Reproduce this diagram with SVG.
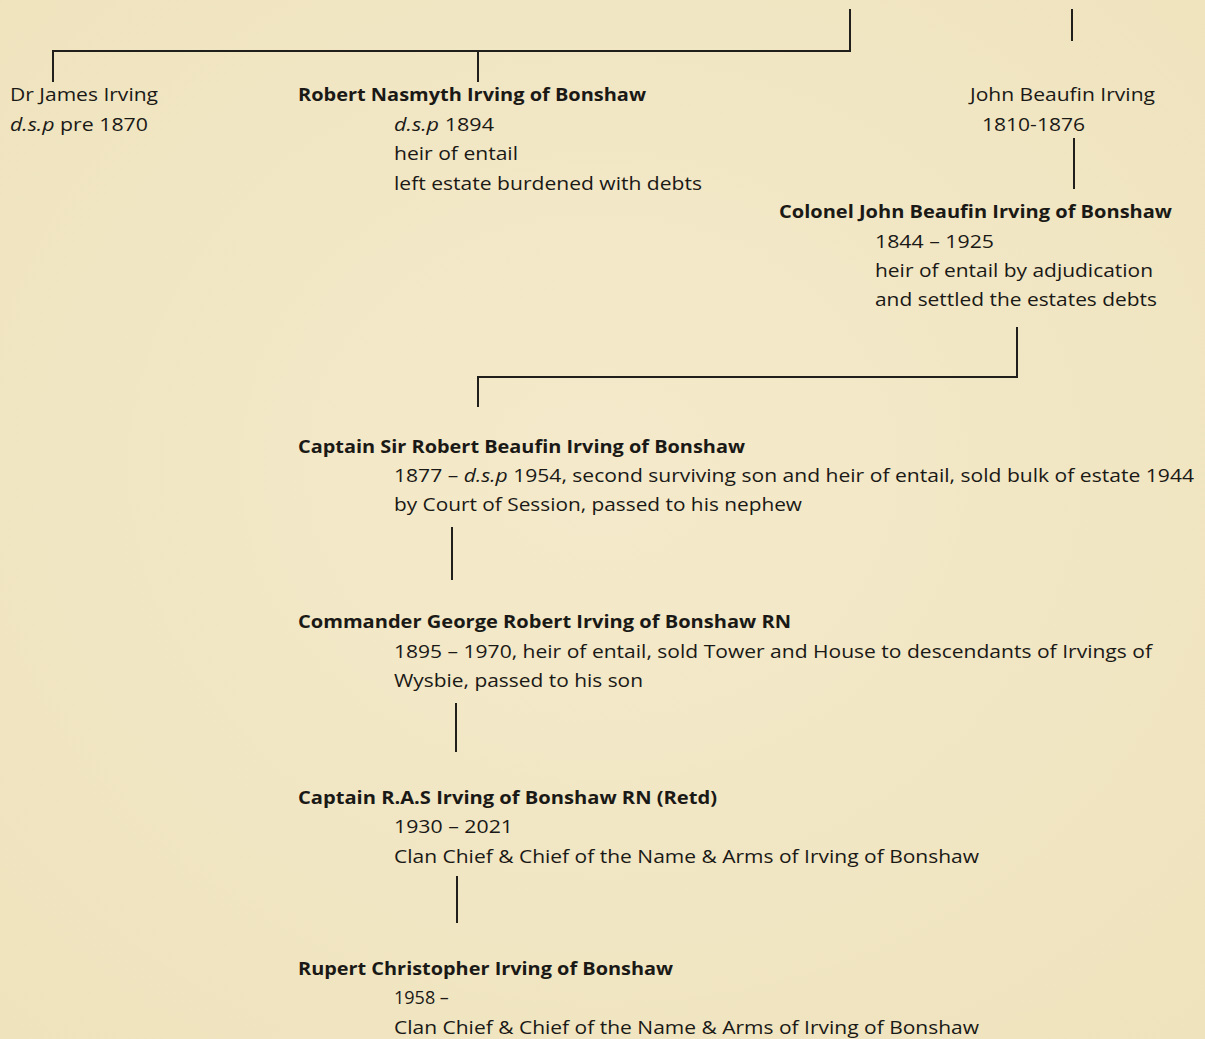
<svg xmlns="http://www.w3.org/2000/svg" width="1205" height="1039" viewBox="0 0 1205 1039">
<style>
text{font-family:"Open Sans","Noto Sans","Liberation Sans",sans-serif;font-size:18px;fill:#1a1916}
.b{font-weight:bold}
.i{font-style:italic}
.ln{stroke:#201f1c;stroke-width:2;fill:none}
</style>
<defs>
<radialGradient id="bg" cx="50%" cy="45%" r="75%">
<stop offset="0" stop-color="#f4eacb"/>
<stop offset="1" stop-color="#efe3bd"/>
</radialGradient>
</defs>
<rect width="1205" height="1039" fill="url(#bg)"/>
<g id="connectors">
<path class="ln" d="M850 9V51H53V82M478 51V82"/>
<path class="ln" d="M1072 9V41"/>
<path class="ln" d="M1074 138V189"/>
<path class="ln" d="M1017 327V377H478V407"/>
<path class="ln" d="M452 527V580"/>
<path class="ln" d="M456 703V752"/>
<path class="ln" d="M457 876V923"/>
</g>
<g id="dr-james">
<text x="10" y="101" textLength="148" lengthAdjust="spacingAndGlyphs">Dr James Irving</text>
<text x="10" y="131" textLength="138" lengthAdjust="spacingAndGlyphs"><tspan class="i">d.s.p</tspan> pre 1870</text>
</g>
<g id="robert-nasmyth">
<text class="b" x="298" y="101" textLength="348" lengthAdjust="spacingAndGlyphs">Robert Nasmyth Irving of Bonshaw</text>
<text x="394" y="131" textLength="100" lengthAdjust="spacingAndGlyphs"><tspan class="i">d.s.p</tspan> 1894</text>
<text x="394" y="160" textLength="124" lengthAdjust="spacingAndGlyphs">heir of entail</text>
<text x="394" y="190" textLength="308" lengthAdjust="spacingAndGlyphs">left estate burdened with debts</text>
</g>
<g id="john-beaufin">
<text x="970" y="101" textLength="185" lengthAdjust="spacingAndGlyphs">John Beaufin Irving</text>
<text x="982" y="131" textLength="103" lengthAdjust="spacingAndGlyphs">1810-1876</text>
</g>
<g id="colonel-john">
<text class="b" x="779" y="218" textLength="393" lengthAdjust="spacingAndGlyphs">Colonel John Beaufin Irving of Bonshaw</text>
<text x="875" y="248" textLength="119" lengthAdjust="spacingAndGlyphs">1844 – 1925</text>
<text x="875" y="277" textLength="278" lengthAdjust="spacingAndGlyphs">heir of entail by adjudication</text>
<text x="875" y="306" textLength="282" lengthAdjust="spacingAndGlyphs">and settled the estates debts</text>
</g>
<g id="captain-sir-robert">
<text class="b" x="298" y="453" textLength="447" lengthAdjust="spacingAndGlyphs">Captain Sir Robert Beaufin Irving of Bonshaw</text>
<text x="394" y="482" textLength="800" lengthAdjust="spacingAndGlyphs">1877 – <tspan class="i">d.s.p</tspan> 1954, second surviving son and heir of entail, sold bulk of estate 1944</text>
<text x="394" y="511" textLength="408" lengthAdjust="spacingAndGlyphs">by Court of Session, passed to his nephew</text>
</g>
<g id="commander-george">
<text class="b" x="298" y="628" textLength="493" lengthAdjust="spacingAndGlyphs">Commander George Robert Irving of Bonshaw RN</text>
<text x="394" y="658" textLength="758" lengthAdjust="spacingAndGlyphs">1895 – 1970, heir of entail, sold Tower and House to descendants of Irvings of</text>
<text x="394" y="687" textLength="249" lengthAdjust="spacingAndGlyphs">Wysbie, passed to his son</text>
</g>
<g id="captain-ras">
<text class="b" x="298" y="804" textLength="419" lengthAdjust="spacingAndGlyphs">Captain R.A.S Irving of Bonshaw RN (Retd)</text>
<text x="394" y="833" textLength="119" lengthAdjust="spacingAndGlyphs">1930 – 2021</text>
<text x="394" y="863" textLength="585" lengthAdjust="spacingAndGlyphs">Clan Chief &amp; Chief of the Name &amp; Arms of Irving of Bonshaw</text>
</g>
<g id="rupert">
<text class="b" x="298" y="975" textLength="375" lengthAdjust="spacingAndGlyphs">Rupert Christopher Irving of Bonshaw</text>
<text x="394" y="1004" style="font-size:18px">1958<tspan> –</tspan></text>
<text x="394" y="1034" textLength="585" lengthAdjust="spacingAndGlyphs">Clan Chief &amp; Chief of the Name &amp; Arms of Irving of Bonshaw</text>
</g>
</svg>
